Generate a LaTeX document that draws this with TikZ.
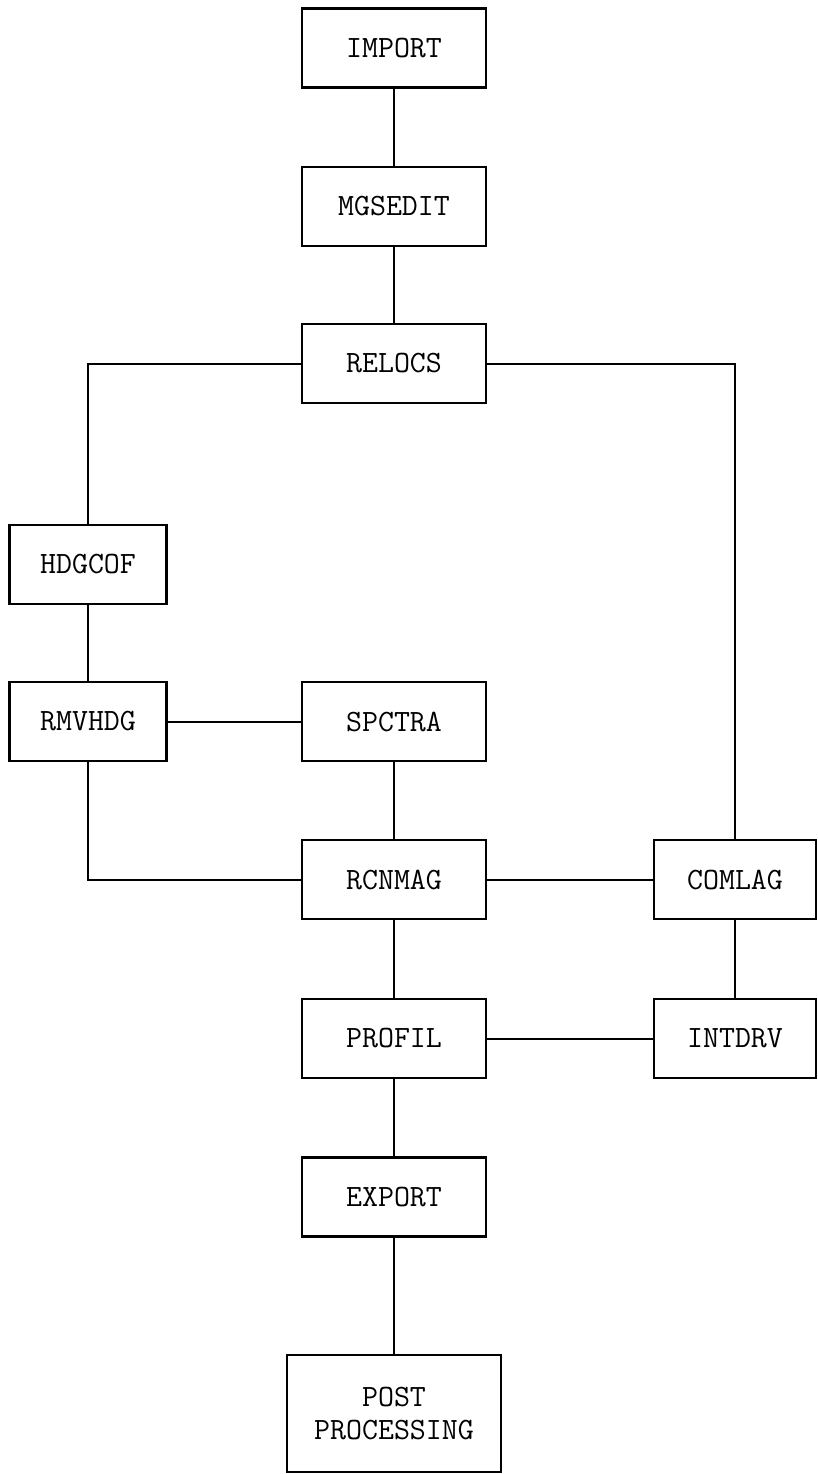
\documentclass[tikz,border=0pt]{standalone}
\begin{document}
\begin{tikzpicture}[x=1pt,y=-1pt,
  blk/.style={draw, line width=2.6pt, inner sep=0pt, font=\ttfamily\fontsize{31}{33}\selectfont, align=center},
  midbox/.style={blk, minimum width=184pt, minimum height=79pt},
  sidebox/.style={blk, minimum width=157pt, minimum height=79pt},
  rightbox/.style={blk, minimum width=162pt, minimum height=79pt},
  conn/.style={line width=2pt}]
\useasboundingbox (0,0) rectangle (818,1474);
\node[midbox] (import) at (394,48) {IMPORT};
\node[midbox] (mgsedit) at (394,206.5) {MGSEDIT};
\node[midbox] (relocs) at (394,363.5) {RELOCS};
\node[sidebox] (hdgcof) at (88,564.5) {HDGCOF};
\node[sidebox] (rmvhdg) at (88,721.5) {RMVHDG};
\node[midbox] (spctra) at (394,721.5) {SPCTRA};
\node[midbox] (rcnmag) at (394,879.5) {RCNMAG};
\node[rightbox] (comlag) at (735,879.5) {COMLAG};
\node[midbox] (profil) at (394,1038.5) {PROFIL};
\node[rightbox] (intdrv) at (735,1038.5) {INTDRV};
\node[midbox] (export) at (394,1197) {EXPORT};
\node[blk, minimum width=214pt, minimum height=117pt] (post) at (394,1413.5) {POST\\PROCESSING};
\draw[conn] (import) -- (mgsedit);
\draw[conn] (mgsedit) -- (relocs);
\draw[conn] (relocs.west) -| (hdgcof.north);
\draw[conn] (relocs.east) -| (comlag.north);
\draw[conn] (hdgcof) -- (rmvhdg);
\draw[conn] (rmvhdg) -- (spctra);
\draw[conn] (spctra) -- (rcnmag);
\draw[conn] (rmvhdg.south) |- (rcnmag.west);
\draw[conn] (rcnmag) -- (comlag);
\draw[conn] (rcnmag) -- (profil);
\draw[conn] (comlag) -- (intdrv);
\draw[conn] (profil) -- (intdrv);
\draw[conn] (profil) -- (export);
\draw[conn] (export) -- (post);
\end{tikzpicture}
\end{document}
